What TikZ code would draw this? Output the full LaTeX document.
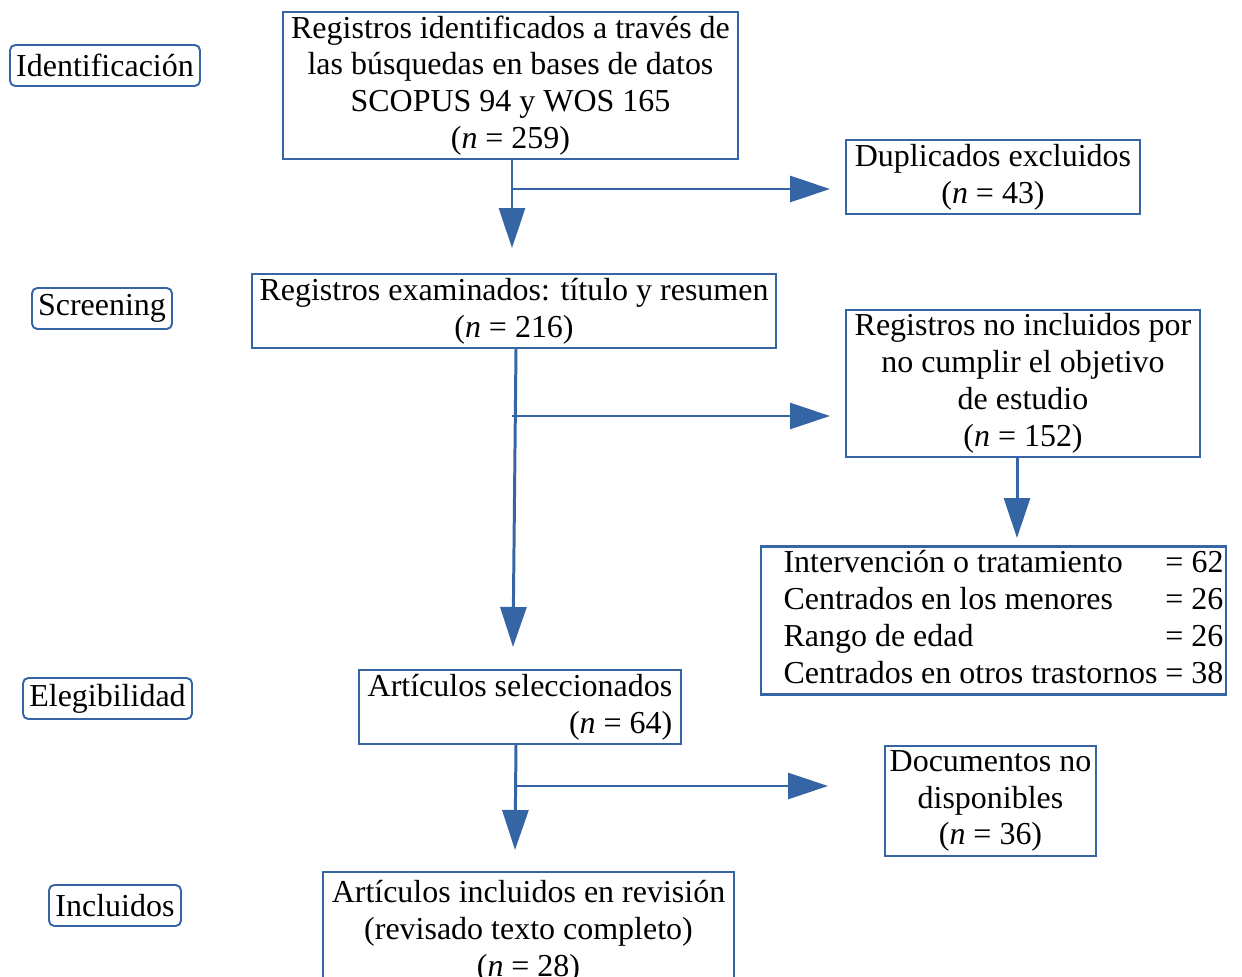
\documentclass[tikz,border=0pt]{standalone}
\usepackage{fontspec}
\setmainfont{Liberation Serif}
\usetikzlibrary{arrows.meta, positioning}
\definecolor{prisma}{RGB}{54,101,166}
\tikzset{
  font=\fontsize{18.2}{21}\selectfont,
  % Set arrowhead
  >={Triangle[length=0.8cm, width=0.52cm]},
  % Phase label on the left
  phase/.style={draw=prisma, line width=1.1pt, rounded corners=3pt,
    inner sep=0pt, minimum height=0.82cm},
  % Record box
  box/.style={draw=prisma, line width=1.4pt, align=center, inner sep=0pt},
  % Flow lines
  flow/.style={draw=prisma, line width=1.7pt},
}

\begin{document}
\begin{tikzpicture}[x=0.02cm, y=-0.02cm]
    \useasboundingbox (0,0) rectangle (1242,977);

    % phases
    \node[phase, minimum width=3.8cm] (idf) at (105,65.5) {Identificación};
    \node[phase, minimum width=2.8cm] (scr) at (102,308.5) {Screening};
    \node[phase, minimum width=3.38cm] (ele) at (107.5,698.5) {Elegibilidad};
    \node[phase, minimum width=2.64cm] (inc) at (115,905.5) {Incluidos};

    % records
    \node[box, minimum width=9.1cm, minimum height=2.94cm] (reg) at (510.5,85.5)
      {Registros identificados a través de\\las búsquedas en bases de datos\\
       SCOPUS 94 y WOS 165\\(\textit{n} = 259)};
    \node[box, minimum width=5.88cm, minimum height=1.48cm] (dup) at (993,177)
      {Duplicados excluidos\\(\textit{n} = 43)};
    \node[box, minimum width=10.48cm, minimum height=1.48cm] (exa) at (514,311)
      {Registros examinados: título y resumen\\(\textit{n} = 216)};
    \node[box, minimum width=7.08cm, minimum height=2.94cm] (noi) at (1023,383.5)
      {Registros no incluidos por\\no cumplir el objetivo\\de estudio\\(\textit{n} = 152)};
    \node[box, minimum width=9.3cm, minimum height=2.94cm] (cat) at (993.5,620.5)
      {\begin{tabular}{@{\hspace{0.4cm}}l@{ }r@{}}
        Intervención o tratamiento & = 62\\
        Centrados en los menores & = 26\\
        Rango de edad & = 26\\
        Centrados en otros trastornos & = 38
      \end{tabular}};
    \node[box, align=right, minimum width=6.44cm, minimum height=1.48cm] (sel) at (520,707)
      {Artículos seleccionados\\(\textit{n} = 64)};
    \node[box, minimum width=4.22cm, minimum height=2.2cm] (nod) at (990.5,801)
      {Documentos no\\disponibles\\(\textit{n} = 36)};
    \node[box, minimum width=8.22cm, minimum height=2.38cm] (icl) at (528.5,931.5)
      {Artículos incluidos en revisión\\(revisado texto completo)\\(\textit{n} = 28)};

    % branch points and arrow ends
    \coordinate (b1) at (512,189);
    \coordinate (t1) at (512,248);
    \coordinate (d1) at (830,189);
    \coordinate (b2) at (512,416);
    \coordinate (t2) at (513,647);
    \coordinate (d2) at (830,416);
    \coordinate (t3) at (1017,538);
    \coordinate (b4) at (516,786);
    \coordinate (t4) at (515,850);
    \coordinate (d4) at (828,786);

    \draw[flow, ->] (reg.south -| t1) -- (t1);
    \draw[flow, ->] (b1) -- (d1);
    \draw[flow, ->] (exa.south -| 516,0) -- (t2);
    \draw[flow, ->] (b2) -- (d2);
    \draw[flow, ->] (noi.south -| t3) -- (t3);
    \draw[flow, ->] (sel.south -| b4) -- (t4);
    \draw[flow, ->] (b4) -- (d4);
\end{tikzpicture}
\end{document}
